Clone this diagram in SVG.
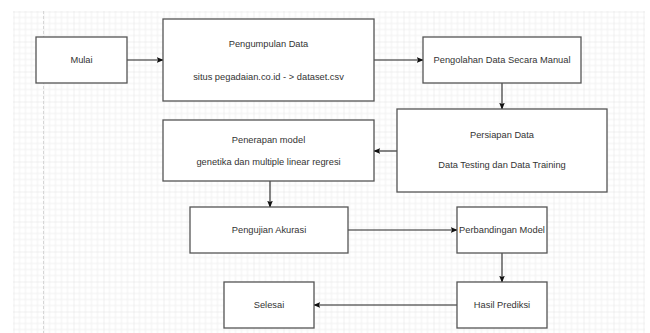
<svg xmlns="http://www.w3.org/2000/svg" width="650" height="333" viewBox="0 0 650 333">
<defs>
<pattern id="grid" patternUnits="userSpaceOnUse" x="13.5" y="11.5" width="30" height="30">
<path d="M6 0V30M12 0V30M18 0V30M24 0V30M0 6H30M0 12H30M0 18H30M0 24H30" stroke="#f1f1f1" stroke-width="1" fill="none"/>
<path d="M0 0V30M0 0H30" stroke="#e2e2e2" stroke-width="1" fill="none"/>
</pattern>
<marker id="arr" viewBox="0 0 10 10" refX="9" refY="5" markerWidth="7" markerHeight="7" markerUnits="userSpaceOnUse" orient="auto">
<path d="M0 1L10 5L0 9L2 5Z" fill="#111"/>
</marker>
<style>
.box{fill:#fff;stroke:#555;stroke-width:1.3}
.t{font-family:"Liberation Sans",Arial,sans-serif;font-size:9.3px;fill:#333;text-anchor:middle;dominant-baseline:central}
.c{stroke:#222;stroke-width:1.1;fill:none;marker-end:url(#arr)}
</style>
</defs>
<rect width="650" height="333" fill="#fff"/>
<rect x="13" y="11" width="632" height="322" fill="url(#grid)"/>
<line x1="43.5" y1="11" x2="43.5" y2="333" stroke="#d6d6d6" stroke-width="1" stroke-dasharray="3 2"/>
<g id="connectors">
<path class="c" d="M127 60H163"/>
<path class="c" d="M374 60H423"/>
<path class="c" d="M502 83V109"/>
<path class="c" d="M397 151H374"/>
<path class="c" d="M270 181V207"/>
<path class="c" d="M348 230H457"/>
<path class="c" d="M502 253V282"/>
<path class="c" d="M457 305H314"/>
</g>
<g id="mulai"><rect class="box" x="36" y="37" width="91" height="46"/><text class="t" x="81.5" y="60">Mulai</text></g>
<g id="pengumpulan"><rect class="box" x="163" y="19" width="211" height="82"/><text class="t" x="268.5" y="44">Pengumpulan Data</text><text class="t" x="268.5" y="77">situs pegadaian.co.id - &gt; dataset.csv</text></g>
<g id="pengolahan"><rect class="box" x="423" y="37" width="158" height="46"/><text class="t" x="502" y="60">Pengolahan Data Secara Manual</text></g>
<g id="persiapan"><rect class="box" x="397" y="109" width="210" height="83"/><text class="t" x="502" y="135">Persiapan Data</text><text class="t" x="502" y="165">Data Testing dan Data Training</text></g>
<g id="penerapan"><rect class="box" x="163" y="120" width="211" height="61"/><text class="t" x="268.5" y="140">Penerapan model</text><text class="t" x="268.5" y="162">genetika dan multiple linear regresi</text></g>
<g id="pengujian"><rect class="box" x="190" y="207" width="158" height="46"/><text class="t" x="269" y="230">Pengujian Akurasi</text></g>
<g id="perbandingan"><rect class="box" x="457" y="207" width="90" height="46"/><text class="t" x="502" y="230">Perbandingan Model</text></g>
<g id="hasil"><rect class="box" x="457" y="282" width="90" height="46"/><text class="t" x="502" y="305">Hasil Prediksi</text></g>
<g id="selesai"><rect class="box" x="224" y="282" width="90" height="46"/><text class="t" x="269" y="305">Selesai</text></g>
</svg>
